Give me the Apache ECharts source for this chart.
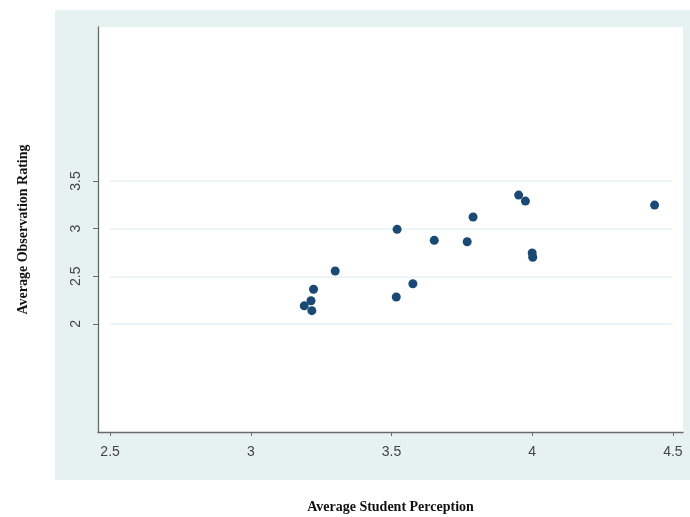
<!DOCTYPE html>
<html>
<head>
<meta charset="utf-8">
<script src="https://cdn.jsdelivr.net/npm/echarts@6/dist/echarts.min.js"></script>
<style>html,body{margin:0;padding:0;background:#fff}#c{width:690px;height:517px}</style>
</head>
<body>
<div id="c"></div>
<script>
var studentPerception = [3.19, 3.214, 3.217, 3.223, 3.30, 3.52, 3.517, 3.576, 3.652, 3.769, 3.79, 3.952, 3.976, 4.0, 4.002, 4.435];
var observationRating = [2.19, 2.244, 2.14, 2.364, 2.556, 2.993, 2.283, 2.422, 2.877, 2.863, 3.122, 3.352, 3.289, 2.744, 2.70, 3.247];
var xTicks = [2.5, 3, 3.5, 4, 4.5];
var yTicks = [2, 2.5, 3, 3.5];
var xTitle = 'Average Student Perception';
var yTitle = 'Average Observation Rating';

var points = studentPerception.map(function (x, i) { return [x, observationRating[i]]; });
var gridLines = yTicks.map(function (y) { return [{ coord: [xTicks[0], y] }, { coord: [xTicks[xTicks.length - 1], y] }]; });

var chart = echarts.init(document.getElementById('c'), null, { renderer: 'canvas' });
chart.setOption({
  animation: false,
  backgroundColor: '#ffffff',
  graphic: [{
    type: 'rect', z: -10, silent: true,
    shape: { x: 55, y: 10, width: 640, height: 470 },
    style: { fill: '#e6f1f2' }
  }],
  grid: { left: 98, right: 7, top: 27, bottom: 85, show: true, backgroundColor: '#ffffff', borderWidth: 0, outerBoundsMode: 'none', containLabel: false },
  xAxis: {
    type: 'value', min: 2.457, max: 4.536,
    name: xTitle, nameLocation: 'middle', nameGap: 68,
    nameTextStyle: { fontFamily: 'Liberation Serif', fontWeight: 'bold', fontSize: 14, color: '#111' },
    axisLine: { show: true, onZero: false, lineStyle: { color: '#6a6a6a', width: 1.3 } },
    axisTick: { show: true, length: 4, customValues: xTicks, lineStyle: { color: '#6a6a6a' } },
    axisLabel: { customValues: xTicks, margin: 13, fontFamily: 'Liberation Sans', fontSize: 14, color: '#444' },
    splitLine: { show: false }
  },
  yAxis: {
    type: 'value', min: 0.867, max: 5.115,
    name: yTitle, nameLocation: 'middle', nameGap: 68, nameRotate: 90,
    nameTextStyle: { fontFamily: 'Liberation Serif', fontWeight: 'bold', fontSize: 14, color: '#111' },
    axisLine: { show: true, onZero: false, lineStyle: { color: '#6a6a6a', width: 1.3 } },
    axisTick: { show: true, length: 5, customValues: yTicks, lineStyle: { color: '#6a6a6a' } },
    axisLabel: { customValues: yTicks, rotate: 90, margin: 15, fontFamily: 'Liberation Sans', fontSize: 14, color: '#444' },
    splitLine: { show: false }
  },
  series: [{
    type: 'scatter',
    data: points,
    symbolSize: 9,
    itemStyle: { color: '#1a4a74', opacity: 1 },
    markLine: {
      silent: true, symbol: 'none', z: 1,
      label: { show: false },
      lineStyle: { color: '#eef5f6', width: 2, type: 'solid' },
      data: gridLines
    },
    z: 3
  }]
});
</script>
</body>
</html>
